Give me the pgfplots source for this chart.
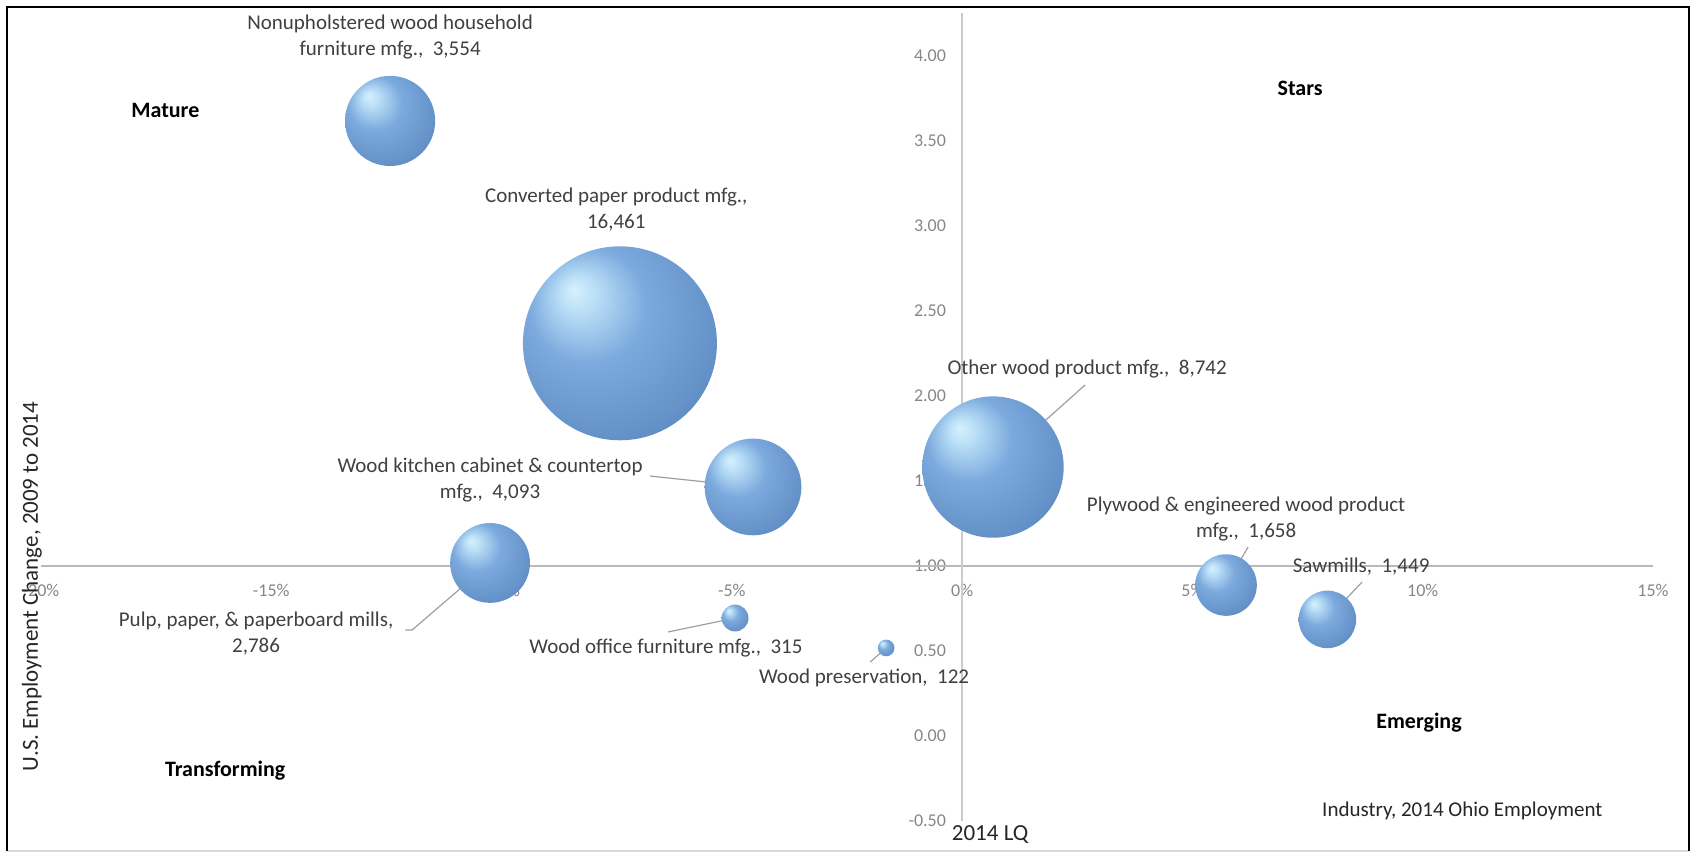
\documentclass[border=0pt]{standalone}
\usepackage{fontspec}
\setmainfont{Carlito}
\usepackage{pgfplots}
\usepackage{pgfplotstable}
\pgfplotsset{compat=1.18}

\definecolor{bhl}{RGB}{215,240,252}
\definecolor{bhl2}{RGB}{190,226,248}
\definecolor{bbase}{RGB}{124,170,222}
\definecolor{bmid}{RGB}{100,146,200}
\definecolor{bdark}{RGB}{78,116,166}
\definecolor{bdeep}{RGB}{64,100,148}
\definecolor{brim}{RGB}{100,145,200}
\definecolor{txt}{RGB}{64,64,64}
\definecolor{tickc}{RGB}{134,134,134}

\pgfdeclareradialshading{bubble}{\pgfqpoint{-12bp}{14bp}}{%
  color(0bp)=(bhl); color(4bp)=(bhl2); color(15bp)=(bbase); color(30bp)=(bmid); color(40bp)=(bdark); color(46bp)=(bdeep); color(50bp)=(brim)}
\pgfdeclareplotmark{bubble}{%
  \pgfpathcircle{\pgfpointorigin}{\pgfplotmarksize}%
  \pgfshadepath{bubble}{0}%
  \pgfusepath{}%
}

\pgfplotstableread{
x y emp
-7.43 2.31 16461
0.67 1.582 8742
-4.54 1.465 4093
-12.42 3.618 3554
-10.25 1.018 2786
5.73 0.888 1658
7.93 0.686 1449
-4.93 0.694 315
-1.65 0.518 122
}\bubbles

\begin{document}
\begin{tikzpicture}[
  lbl/.style={font=\fontsize{10.5}{13}\selectfont, text=txt, align=center},
  quad/.style={font=\fontsize{11}{13}\selectfont\bfseries, text=black},
  lead/.style={draw=gray!75, line width=0.6pt},
]
\begin{axis}[
  scale only axis, width=806pt, height=403.75pt,
  xmin=-20, xmax=15, ymin=-0.5, ymax=4.25,
  axis line style={draw=none}, major tick length=0pt,
  xtick={-20,-15,-10,-5,0,5,10,15},
  ytick={-0.5,0,0.5,1,1.5,2,2.5,3,3.5,4},
  xticklabel={\pgfmathprintnumber{\tick}\%},
  /pgf/number format/assume math mode=true,
  tick label style={font=\fontsize{9}{11}\selectfont, text=tickc},
  xticklabel style={yshift=122pt},
  yticklabel style={xshift=456pt, /pgf/number format/fixed, /pgf/number format/fixed zerofill, /pgf/number format/precision=2},
  clip=false, set layers,
]
\draw[gray!55, line width=0.8pt] (axis cs:-20,1) -- (axis cs:15,1);
\draw[gray!40, line width=0.8pt] (axis cs:0,-0.5) -- (axis cs:0,4.25);

\draw[lead] (axis cs:-12.09,0.624) -- (axis cs:-11.94,0.624) -- (axis cs:-10.25,1.018);
\draw[lead] (axis cs:-6.774,1.529) -- (axis cs:-4.538,1.465);
\draw[lead] (axis cs:-6.383,0.612) -- (axis cs:-4.928,0.694);
\draw[lead] (axis cs:-1.997,0.435) -- (axis cs:-1.65,0.518);
\draw[lead] (axis cs:2.670,2.065) -- (axis cs:0.673,1.582);
\draw[lead] (axis cs:6.209,1.112) -- (axis cs:5.732,0.888);
\draw[lead] (axis cs:8.684,0.906) -- (axis cs:7.925,0.688);

\addplot[scatter, only marks, mark=bubble,
  visualization depends on={0.378*sqrt(\thisrow{emp}) \as \rad},
  scatter/@pre marker code/.append style={/tikz/mark size=\rad, /tikz/fill opacity=0.94}]
  table[x=x, y=y] {\bubbles};

\node[lbl] at (axis cs:-12.42,4.109) {Nonupholstered wood household\\furniture mfg.,~ 3,554};
\node[lbl] at (axis cs:-7.51,3.094) {Converted paper product mfg.,\\16,461};
\node[lbl] at (axis cs:2.714,2.159) {Other wood product mfg.,~ 8,742};
\node[lbl] at (axis cs:-10.25,1.506) {Wood kitchen cabinet \& countertop\\mfg.,~ 4,093};
\node[lbl] at (axis cs:-15.33,0.603) {Pulp, paper, \& paperboard mills,\\2,786};
\node[lbl] at (axis cs:-6.43,0.518) {Wood office furniture mfg.,~ 315};
\node[lbl] at (axis cs:-2.128,0.341) {Wood preservation,~ 122};
\node[lbl] at (axis cs:6.166,1.276) {Plywood \& engineered wood product\\mfg.,~ 1,658};
\node[lbl] at (axis cs:8.663,0.994) {Sawmills,~ 1,449};

\node[quad] at (axis cs:-17.30,3.682) {Mature};
\node[quad] at (axis cs:7.338,3.812) {Stars};
\node[quad] at (axis cs:9.92,0.08) {Emerging};
\node[quad] at (axis cs:-16.0,-0.206) {Transforming};
\node[font=\fontsize{10.5}{13}\selectfont, text=black!85] at (axis cs:10.86,-0.441) {Industry, 2014 Ohio Employment};
\node[font=\fontsize{11.5}{14}\selectfont, text=black!85] at (axis cs:0.608,-0.582) {2014 LQ};
\node[font=\fontsize{11.5}{14}\selectfont, text=black!85, rotate=90] at (axis cs:-20.2,0.88) {U.S. Employment Change, 2009 to 2014};

\coordinate (ll) at (rel axis cs:0,0);
\coordinate (ur) at (rel axis cs:1,1);
\end{axis}
\pgfresetboundingbox
\path[use as bounding box] ([shift={(-20.5pt,-16pt)}]ll) rectangle ([shift={(20.5pt,6.75pt)}]ur);
\coordinate (bl) at ([shift={(-17pt,-15pt)}]ll);
\coordinate (tr) at ([shift={(18pt,3.25pt)}]ur);
\draw[gray!30, line width=0.8pt] (bl) -- (tr|-bl);
\draw[black, line width=1.2pt] (bl) -- (bl|-tr) -- (tr) -- (tr|-bl);
\end{tikzpicture}
\end{document}
